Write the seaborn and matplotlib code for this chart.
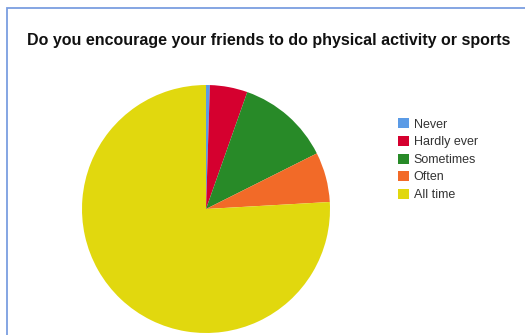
import matplotlib
matplotlib.use("Agg")
import matplotlib.pyplot as plt
from matplotlib.patches import Rectangle, Patch
import seaborn as sns

# Survey answers (share of respondents, %)
categories = ["Never", "Hardly ever", "Sometimes", "Often", "All time"]
shares = [0.5, 4.9, 12.2, 6.5, 75.9]
colors = ["#5b9be6", "#d5002f", "#288a28", "#f26a28", "#e1d80e"]
title = "Do you encourage your friends to do physical activity or sports"

sns.set_theme(style="white")
plt.rcParams["font.family"] = ["Liberation Sans", "DejaVu Sans"]

W, H = 525, 335
fig = plt.figure(figsize=(W / 100, H / 100), dpi=100)
fig.patch.set_facecolor("white")

# Panel frame
fig.patches.append(Rectangle((7 / W, -0.05), 1.1, 1 - 8 / H + 0.05,
                             transform=fig.transFigure, fill=False,
                             edgecolor="#7b9ee0", linewidth=1.3))

# Pie axes: centre (206, 209) px, radius 124 px
cx, cy, r = 206, 209, 124
ax = fig.add_axes([(cx - r) / W, (H - cy - r) / H, 2 * r / W, 2 * r / H])
wedges, _ = ax.pie(shares, colors=colors, startangle=90, counterclock=False,
                   wedgeprops=dict(linewidth=0, antialiased=True))
ax.set_xlim(-1, 1)
ax.set_ylim(-1, 1)
ax.set_aspect("equal")
ax.axis("off")

fig.text(27 / W, 1 - 40.5 / H, title, ha="left", va="center",
         fontsize=11.5, fontweight="bold", color="#111111")

handles = [Patch(facecolor=c, edgecolor="none") for c in colors]
fig.legend(handles, categories, loc="upper left",
           bbox_to_anchor=(398 / W, 1 - 118.5 / H), frameon=False,
           fontsize=9, labelcolor="#333333", handlelength=0.85,
           handleheight=0.85, handletextpad=0.4, labelspacing=0.42,
           borderpad=0, borderaxespad=0)

fig.savefig("out.png", dpi=100)
